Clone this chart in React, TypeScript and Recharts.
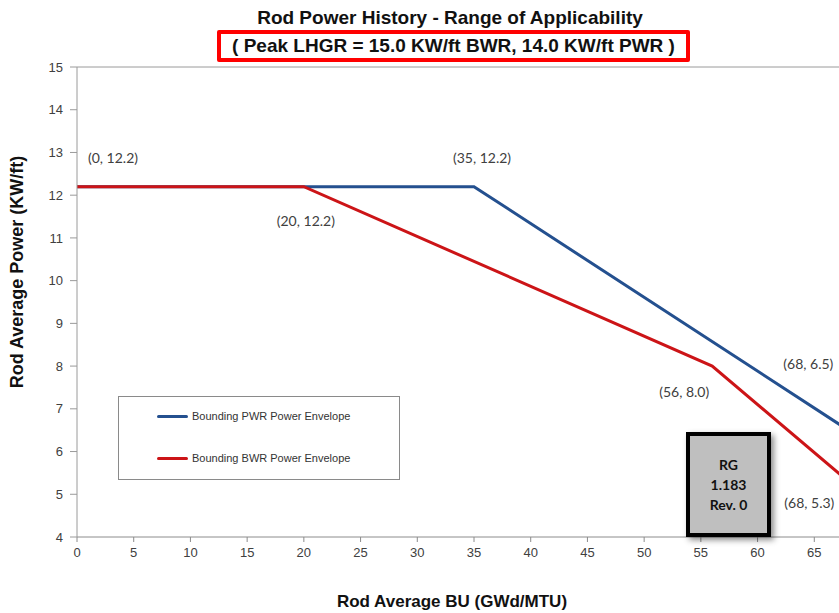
import React from "react";
import { LineChart, Line, XAxis, YAxis, ReferenceLine, ReferenceDot, Label } from "recharts";

const pwrBurnup = [0, 35, 68];
const pwrPower = [12.2, 12.2, 6.5];
const bwrBurnup = [0, 20, 56, 68];
const bwrPower = [12.2, 12.2, 8.0, 5.3];
const seriesNames = ["Bounding PWR Power Envelope", "Bounding BWR Power Envelope"];
const xTicks = [0, 5, 10, 15, 20, 25, 30, 35, 40, 45, 50, 55, 60, 65];
const yTicks = [4, 5, 6, 7, 8, 9, 10, 11, 12, 13, 14, 15];
const annX = [0, 35, 20, 56, 68, 68];
const annY = [12.2, 12.2, 12.2, 8.0, 6.5, 5.3];
const annText = ["(0, 12.2)", "(35, 12.2)", "(20, 12.2)", "(56, 8.0)", "(68, 6.5)", "(68, 5.3)"];
const annOffset = [
  [36, -24],
  [8, -24],
  [2, 39],
  [-28, 31],
  [-40, -61],
  [-39, 27],
];

const pwrData = pwrBurnup.map((x, i) => ({ x, y: pwrPower[i] }));
const bwrData = bwrBurnup.map((x, i) => ({ x, y: bwrPower[i] }));

const PWR_COLOR = "#24508f";
const BWR_COLOR = "#cc1417";
const seriesColors = [PWR_COLOR, BWR_COLOR];
const FONT = "Arial, 'Liberation Sans', sans-serif";

export default function App() {
  return (
    <div style={{ position: "absolute", left: 0, top: 0, width: 839, height: 613, overflow: "hidden", background: "#fff" }}>
      <div
        style={{
          position: "absolute",
          left: 0,
          top: 6,
          width: 900,
          textAlign: "center",
          fontFamily: FONT,
          fontWeight: "bold",
          fontSize: 19,
          lineHeight: "24px",
          color: "#111",
        }}
      >
        Rod Power History - Range of Applicability
      </div>
      <div
        style={{
          position: "absolute",
          left: 217,
          top: 30,
          width: 473,
          height: 32,
          boxSizing: "border-box",
          border: "4px solid #ff0000",
          borderRadius: 2,
          textAlign: "center",
          lineHeight: "23px",
          fontFamily: FONT,
          fontWeight: "bold",
          fontSize: 19,
          color: "#111",
          whiteSpace: "nowrap",
        }}
      >
        ( Peak LHGR = 15.0 KW/ft BWR, 14.0 KW/ft PWR )
      </div>
      <div style={{ position: "absolute", left: 0, top: 0 }}>
        <LineChart width={880} height={613} margin={{ top: 67, right: 9, bottom: 0, left: 0 }}>
          <XAxis
            type="number"
            dataKey="x"
            domain={[0, 70]}
            ticks={xTicks}
            interval={0}
            stroke="#8c8c8c"
            tickSize={5}
            tick={{ fill: "#404040", fontSize: 13, fontFamily: FONT, dy: 4 }}
            height={76}
          >
            <Label
              content={() => (
                <text
                  x={452}
                  y={607}
                  textAnchor="middle"
                  fontFamily={FONT}
                  fontWeight="bold"
                  fontSize={17}
                  fill="#111"
                >
                  Rod Average BU (GWd/MTU)
                </text>
              )}
            />
          </XAxis>
          <YAxis
            type="number"
            domain={[4, 15]}
            ticks={yTicks}
            interval={0}
            stroke="#9a9a9a"
            tickSize={7}
            width={77}
            tick={{ fill: "#404040", fontSize: 13, fontFamily: FONT, dx: -5 }}
          >
            <Label
              content={() => (
                <text
                  x={23}
                  y={272}
                  transform="rotate(-90 23 272)"
                  textAnchor="middle"
                  fontFamily={FONT}
                  fontWeight="bold"
                  fontSize={18}
                  fill="#111"
                >
                  Rod Average Power (KW/ft)
                </text>
              )}
            />
          </YAxis>
          <ReferenceLine y={15} stroke="#9a9a9a" strokeWidth={1} />
          <Line
            data={pwrData}
            dataKey="y"
            name={seriesNames[0]}
            stroke={PWR_COLOR}
            strokeWidth={3}
            dot={false}
            isAnimationActive={false}
          />
          <Line
            data={bwrData}
            dataKey="y"
            name={seriesNames[1]}
            stroke={BWR_COLOR}
            strokeWidth={3}
            dot={false}
            isAnimationActive={false}
          />
          {annText.map((t, i) => (
            <ReferenceDot
              key={i}
              x={annX[i]}
              y={annY[i]}
              r={0}
              ifOverflow="visible"
              shape={(p: any) => (
                <text
                  x={p.cx + annOffset[i][0]}
                  y={p.cy + annOffset[i][1]}
                  textAnchor="middle"
                  fontFamily="Lato, 'Open Sans', sans-serif"
                  fontSize={14}
                  fill="#404040"
                >
                  {t}
                </text>
              )}
            />
          ))}
        </LineChart>
      </div>
      <div
        style={{
          position: "absolute",
          left: 118,
          top: 396,
          width: 282,
          height: 84,
          boxSizing: "border-box",
          border: "1px solid #8a8a8a",
          background: "#fff",
          fontFamily: FONT,
          fontSize: 11,
          color: "#333",
        }}
      >
        {seriesNames.map((n, i) => (
          <div
            key={i}
            style={{ position: "absolute", left: 38, top: 13 + i * 42, display: "flex", alignItems: "center" }}
          >
            <span style={{ display: "inline-block", width: 31, height: 3, background: seriesColors[i], marginRight: 4, borderRadius: 2 }} />
            <span>{n}</span>
          </div>
        ))}
      </div>
      <div
        style={{
          position: "absolute",
          left: 686,
          top: 432,
          width: 85,
          height: 105,
          boxSizing: "border-box",
          border: "4px solid #000",
          background: "#bfbfbf",
          boxShadow: "3px 3px 6px rgba(0,0,0,0.45)",
          display: "flex",
          flexDirection: "column",
          alignItems: "center",
          justifyContent: "center",
          fontFamily: "Lato, 'Open Sans', sans-serif",
          fontWeight: "bold",
          fontSize: 14,
          lineHeight: "20px",
          color: "#111",
        }}
      >
        <div>RG</div>
        <div>1.183</div>
        <div>Rev. 0</div>
      </div>
    </div>
  );
}
